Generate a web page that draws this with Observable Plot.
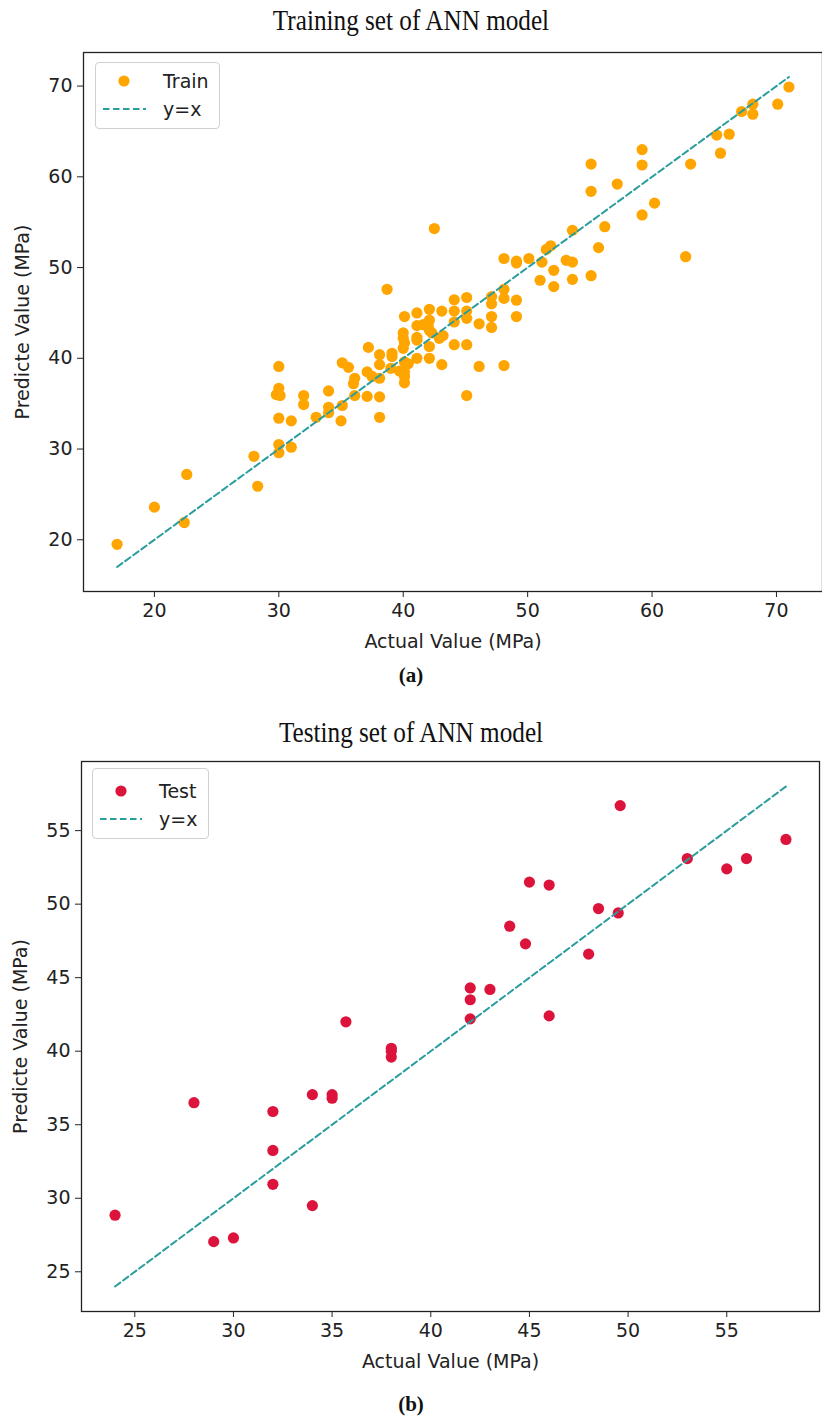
<!DOCTYPE html>
<html>
<head>
<meta charset="utf-8">
<script src="https://cdn.jsdelivr.net/npm/d3@7"></script>
<script src="https://cdn.jsdelivr.net/npm/@observablehq/plot@0.6"></script>
<style>
  html, body { margin: 0; padding: 0; background: #fff; }
  #page { position: relative; width: 822px; height: 1419px; overflow: hidden; background: #fff; }
  .abs { position: absolute; }
  .title { font-family: "Liberation Serif", "Times New Roman", serif; font-size: 30px; color: #111; width: 822px; text-align: center; left: 0; line-height: 1; transform: scaleX(0.84); transform-origin: 411px 0; }
  .cap { font-family: "Liberation Serif", serif; font-weight: bold; font-size: 21px; color: #111; width: 822px; text-align: center; left: 0; line-height: 1; }
  .legend { border: 1.2px solid #d0d0d0; border-radius: 4px; background: rgba(255,255,255,0.85); font-family: "DejaVu Sans", sans-serif; font-size: 19px; color: #222; }
  .legend svg { position: absolute; }
  .legend span { position: absolute; white-space: nowrap; }
</style>
</head>
<body>
<div id="page"></div>
<script>
// ---------- Data ----------
const trainActual = [17, 20, 22.6, 22.4, 28, 28.3, 30, 30, 29.8, 30.1, 30, 30, 30, 31, 31, 32, 32, 33, 34, 34, 34, 35.1, 35, 35.1, 35.6, 36.1, 36, 36.1, 37.1, 37.2, 37.1, 37.5, 38.1, 38.1, 38.1, 38.1, 38.1, 38.7, 39.1, 39.1, 39, 39.7, 40.1, 40.1, 40.1, 40.1, 40, 40, 40.1, 40, 40.1, 40.4, 41.1, 41.1, 41.1, 41.1, 41.1, 41.6, 42, 42.1, 42.1, 42.1, 42.3, 42.1, 42.1, 43.1, 42.9, 43.2, 43.1, 44.1, 44.1, 44.1, 44.1, 45.1, 45.1, 45.1, 45.1, 45.1, 46.1, 46.1, 47.1, 47.1, 47.1, 47.1, 48.1, 48.1, 48.1, 49.1, 49.1, 48.1, 49.1, 49.1, 50.1, 51, 51.15, 51.5, 51.85, 52.1, 52.1, 53.1, 53.6, 53.6, 53.6, 55.1, 55.1, 55.1, 55.7, 56.2, 57.2, 59.2, 59.2, 59.2, 60.2, 62.7, 63.1, 65.2, 65.5, 66.2, 67.2, 68.1, 68.1, 70.1, 71, 42.5];
const trainPredicted = [19.5, 23.6, 27.2, 21.9, 29.2, 25.9, 39.1, 36.7, 36.0, 35.9, 33.4, 30.5, 29.6, 33.1, 30.2, 35.9, 34.9, 33.5, 36.4, 34.6, 34.0, 34.8, 33.1, 39.5, 39.0, 37.8, 37.2, 35.9, 35.8, 41.2, 38.5, 38.0, 40.4, 39.3, 37.8, 35.75, 33.5, 47.6, 40.55, 40.2, 38.9, 38.6, 38.5, 38.0, 37.3, 39.6, 42.8, 42.2, 41.7, 41.1, 44.6, 39.4, 45.0, 43.6, 42.3, 42.0, 40.0, 43.7, 43.7, 45.4, 44.2, 43.1, 42.8, 41.3, 40.0, 45.2, 42.2, 42.5, 39.3, 46.45, 45.2, 44.0, 41.5, 46.7, 45.2, 44.4, 41.5, 35.9, 43.8, 39.1, 46.8, 46.0, 44.6, 43.4, 47.6, 46.6, 39.2, 46.4, 44.6, 51.0, 50.7, 50.5, 51.0, 48.6, 50.6, 52.0, 52.4, 49.7, 47.9, 50.8, 50.6, 54.1, 48.7, 61.4, 58.4, 49.1, 52.2, 54.5, 59.2, 63.0, 61.3, 55.8, 57.1, 51.2, 61.4, 64.6, 62.6, 64.7, 67.2, 68.0, 66.9, 68.0, 69.9, 54.3];

const testActual = [49.6, 58, 56, 55, 53, 45, 46, 48.5, 49.5, 44, 44.8, 48, 42, 43, 42, 42, 46, 35.7, 38, 38, 38, 34, 35, 35, 28, 32, 32, 32, 34, 24, 29, 30];
const testPredicted = [56.7, 54.4, 53.1, 52.4, 53.1, 51.5, 51.3, 49.7, 49.4, 48.5, 47.3, 46.6, 44.3, 44.2, 43.5, 42.2, 42.4, 42.0, 40.2, 40.0, 39.6, 37.05, 37.05, 36.8, 36.5, 35.9, 33.25, 30.95, 29.5, 28.85, 27.05, 27.3];

const lineTrain = [17, 71];
const lineTest = [24, 58];

const ticksTrain = [20, 30, 40, 50, 60, 70];
const ticksTest = [25, 30, 35, 40, 45, 50, 55];

const titles = ["Training set of ANN model", "Testing set of ANN model"];
const captions = ["(a)", "(b)"];
const xLabel = "Actual Value (MPa)";
const yLabel = "Predicte Value (MPa)";
const seriesNames = ["Train", "Test"];
const refName = "y=x";

// ---------- Styles ----------
const C_TRAIN = "#ffa500";
const C_TEST = "#dc143c";
const C_LINE = "#2a9d9d";
const FONT = "DejaVu Sans, sans-serif";

function makeChart({actual, predicted, lineEnds, ticks, domain, height, mt, mb, ml, mr, color}) {
  const pts = actual.map((a, i) => ({a, p: predicted[i]}));
  const ref = lineEnds.map(v => ({a: v, p: v}));
  return Plot.plot({
    width: 822,
    height,
    marginTop: mt,
    marginBottom: mb,
    marginLeft: ml,
    marginRight: mr,
    style: {fontFamily: FONT, fontSize: "19px", color: "#222", background: "transparent", overflow: "visible"},
    x: {domain},
    y: {domain},
    marks: [
      Plot.dot(pts, {x: "a", y: "p", r: 5.6, fill: color, stroke: "none"}),
      Plot.line(ref, {x: "a", y: "p", stroke: C_LINE, strokeWidth: 2, strokeDasharray: "6.5,3.5"}),
      Plot.frame({stroke: "#222", strokeWidth: 1.3}),
      Plot.axisX({ticks, tickSize: 6, tickPadding: 6, tickFormat: d => String(d), fontSize: 19,
        label: xLabel, labelAnchor: "center", labelArrow: "none", labelOffset: 56}),
      Plot.axisY({ticks, tickSize: 6, tickPadding: 5, tickFormat: d => String(d), fontSize: 19,
        label: yLabel, labelAnchor: "center", labelArrow: "none", labelOffset: 68})
    ]
  });
}

const page = document.getElementById("page");

function addDiv(cls, text, top, extra) {
  const d = document.createElement("div");
  d.className = "abs " + cls;
  d.textContent = text;
  d.style.top = top + "px";
  if (extra) Object.assign(d.style, extra);
  page.appendChild(d);
  return d;
}

function addLegend(left, top, w, h, name, color, dotX, dotY, textX, lineY, lineX1, lineX2) {
  const lg = document.createElement("div");
  lg.className = "abs legend";
  Object.assign(lg.style, {left: left + "px", top: top + "px", width: w + "px", height: h + "px"});
  const ns = "http://www.w3.org/2000/svg";
  const svg = document.createElementNS(ns, "svg");
  svg.setAttribute("width", w); svg.setAttribute("height", h);
  svg.style.left = "0px"; svg.style.top = "0px";
  const c = document.createElementNS(ns, "circle");
  c.setAttribute("cx", dotX); c.setAttribute("cy", dotY); c.setAttribute("r", 5.6); c.setAttribute("fill", color);
  svg.appendChild(c);
  const l = document.createElementNS(ns, "line");
  l.setAttribute("x1", lineX1); l.setAttribute("x2", lineX2); l.setAttribute("y1", lineY); l.setAttribute("y2", lineY);
  l.setAttribute("stroke", C_LINE); l.setAttribute("stroke-width", 2); l.setAttribute("stroke-dasharray", "6.5,3.5");
  svg.appendChild(l);
  lg.appendChild(svg);
  const t1 = document.createElement("span");
  t1.textContent = name; Object.assign(t1.style, {left: textX + "px", top: (dotY - 12) + "px", lineHeight: "24px"});
  lg.appendChild(t1);
  const t2 = document.createElement("span");
  t2.textContent = refName; Object.assign(t2.style, {left: textX + "px", top: (lineY - 12) + "px", lineHeight: "24px"});
  lg.appendChild(t2);
  page.appendChild(lg);
}

// Chart (a)
const chartA = makeChart({actual: trainActual, predicted: trainPredicted, lineEnds: lineTrain, ticks: ticksTrain,
  domain: [14.3, 73.7], height: 660, mt: 52, mb: 69, ml: 83, mr: 0, color: C_TRAIN});
chartA.style.position = "absolute"; chartA.style.left = "0px"; chartA.style.top = "0px";
page.appendChild(chartA);

// Chart (b)
const chartB = makeChart({actual: testActual, predicted: testPredicted, lineEnds: lineTest, ticks: ticksTest,
  domain: [22.3, 59.7], height: 700, mt: 61, mb: 89, ml: 81, mr: 3, color: C_TEST});
chartB.style.position = "absolute"; chartB.style.left = "0px"; chartB.style.top = "700px";
page.appendChild(chartB);

addDiv("title", titles[0], 5);
addDiv("title", titles[1], 717);
addDiv("cap", captions[0], 665);
addDiv("cap", captions[1], 1394);

addLegend(95, 62, 123, 65, seriesNames[0], C_TRAIN, 28, 18, 67, 46, 7, 50);
addLegend(92, 768, 115, 69, seriesNames[1], C_TEST, 28, 22, 66, 50, 7, 49);
</script>
</body>
</html>
